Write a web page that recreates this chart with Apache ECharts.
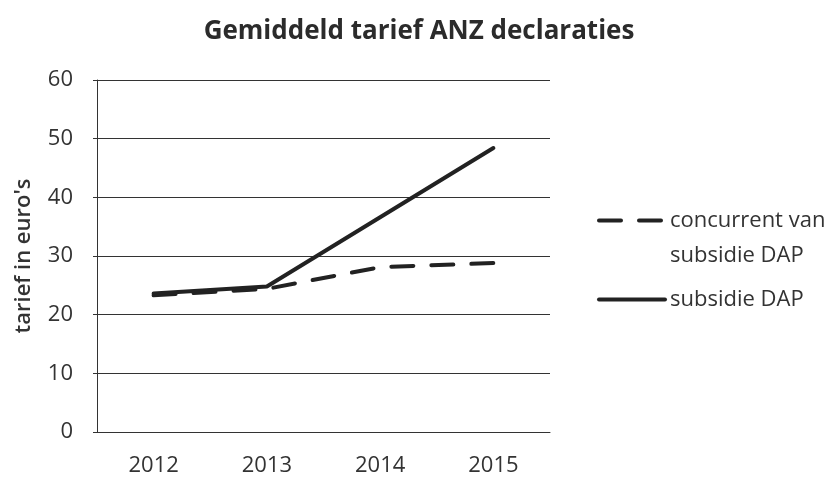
<!DOCTYPE html>
<html>
<head>
<meta charset="utf-8">
<script src="https://cdn.jsdelivr.net/npm/echarts@6/dist/echarts.min.js"></script>
<style>
	html, body { margin: 0; padding: 0; background: #fff; }
	#chart { width: 838px; height: 477px; }
</style>
</head>
<body>
<div id="chart"></div>
<script>
const years = ['2012', '2013', '2014', '2015'];
const concurrent = [23.3, 24.4, 28.1, 28.8];
const subsidie = [23.6, 24.8, 36.6, 48.4];

const font = '"Open Sans", "Liberation Sans", sans-serif';
const chart = echarts.init(document.getElementById('chart'));
chart.setOption({
	animation: false,
	textStyle: { fontFamily: font, color: '#333' },
	title: {
		text: 'Gemiddeld tarief ANZ declaraties',
		left: 'center',
		top: 14,
		textStyle: { fontFamily: font, fontSize: 26, fontWeight: 'bold', color: '#2b2b2b' },
	},
	legend: {
		orient: 'vertical',
		left: 592,
		top: 163,
		itemWidth: 66,
		itemHeight: 14,
		itemGap: 9,
		itemStyle: { opacity: 0 },
		lineStyle: { width: 4, cap: 'round' },
		// leading blank line keeps the icon level with the first text line
		formatter: (name) => (name.indexOf('\n') >= 0 ? '\n' + name : name),
		textStyle: { fontFamily: font, fontSize: 22, color: '#333', lineHeight: 35 },
		data: [
			{ name: 'concurrent van\nsubsidie DAP' },
			{ name: 'subsidie DAP' },
		],
	},
	grid: { left: 97, right: 288, top: 80, bottom: 45 },
	xAxis: {
		type: 'category',
		data: years,
		axisLine: { lineStyle: { color: '#333', width: 1 } },
		axisTick: { show: false },
		axisLabel: { fontFamily: font, fontSize: 22, color: '#333', margin: 23 },
	},
	yAxis: {
		type: 'value',
		min: 0,
		max: 60,
		interval: 10,
		name: "tarief in euro's",
		nameLocation: 'middle',
		nameGap: 62,
		nameTextStyle: { fontFamily: font, fontSize: 22, fontWeight: 600, color: '#333' },
		axisLine: { show: true, lineStyle: { color: '#333', width: 1 } },
		axisTick: { show: true, length: 4, lineStyle: { color: '#333' } },
		axisLabel: { fontFamily: font, fontSize: 22, color: '#333', margin: 24 },
		splitLine: { lineStyle: { color: '#333', width: 1 } },
	},
	series: [{
		name: 'concurrent van\nsubsidie DAP',
		type: 'line',
		data: concurrent,
		symbol: 'none',
		lineStyle: { color: '#222', width: 4, type: [22, 18], cap: 'round' },
		itemStyle: { color: '#222' },
	}, {
		name: 'subsidie DAP',
		type: 'line',
		data: subsidie,
		symbol: 'none',
		lineStyle: { color: '#222', width: 4, cap: 'round' },
		itemStyle: { color: '#222' },
	}],
});
</script>
</body>
</html>
